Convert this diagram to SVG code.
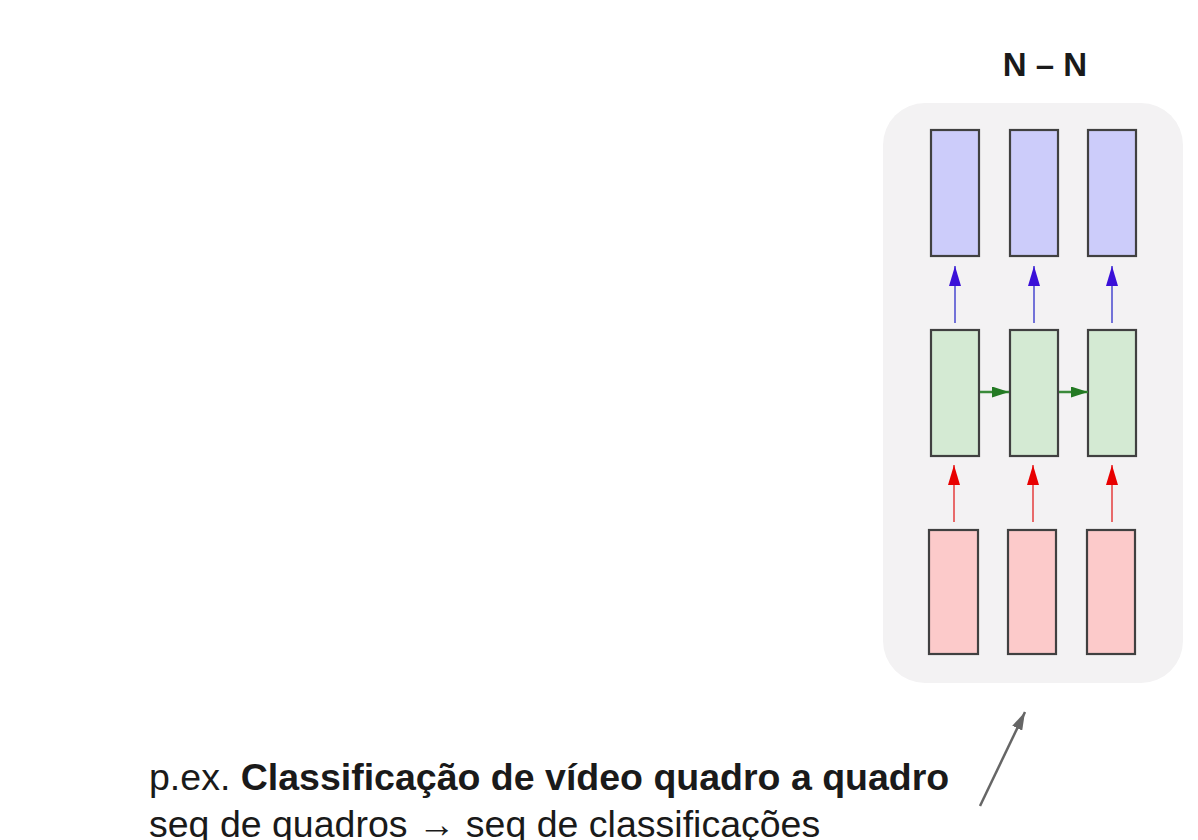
<svg xmlns="http://www.w3.org/2000/svg" width="1198" height="840" viewBox="0 0 1198 840">
<defs>
<style>
.box{stroke:#404040;stroke-width:2.2}
.out{fill:#ccccfa}
.hid{fill:#d4ead3}
.inp{fill:#fccaca}
.lbl{font-family:"Liberation Sans",Arial,sans-serif;fill:#1a1a1a}
</style>
<marker id="mb" viewBox="0 0 10 10" preserveAspectRatio="none" refX="10" refY="5" markerWidth="20" markerHeight="12" orient="auto" markerUnits="userSpaceOnUse"><path d="M0,0L10,5L0,10z" fill="#3a10d8"/></marker>
<marker id="mr" viewBox="0 0 10 10" preserveAspectRatio="none" refX="10" refY="5" markerWidth="20" markerHeight="12" orient="auto" markerUnits="userSpaceOnUse"><path d="M0,0L10,5L0,10z" fill="#e80000"/></marker>
<marker id="mg" viewBox="0 0 10 10" preserveAspectRatio="none" refX="10" refY="5" markerWidth="17" markerHeight="11" orient="auto" markerUnits="userSpaceOnUse"><path d="M0,0L10,5L0,10z" fill="#237a23"/></marker>
<marker id="mk" viewBox="0 0 10 10" preserveAspectRatio="none" refX="10" refY="5" markerWidth="18" markerHeight="11" orient="auto" markerUnits="userSpaceOnUse"><path d="M0,0L10,5L0,10z" fill="#666"/></marker>
</defs>
<rect width="1198" height="840" fill="#ffffff"/>
<g id="panel"><rect x="883" y="103" width="300" height="580" rx="42" fill="#f3f2f3"/></g>
<g id="title"><text class="lbl" x="1045" y="76" font-size="33" font-weight="bold" text-anchor="middle">N – N</text></g>
<g id="out1"><rect class="box out" x="931" y="130" width="48" height="126"/></g>
<g id="out2"><rect class="box out" x="1010" y="130" width="48" height="126"/></g>
<g id="out3"><rect class="box out" x="1088" y="130" width="48" height="126"/></g>
<g id="hid1"><rect class="box hid" x="931" y="330" width="48" height="126"/></g>
<g id="hid2"><rect class="box hid" x="1010" y="330" width="48" height="126"/></g>
<g id="hid3"><rect class="box hid" x="1088" y="330" width="48" height="126"/></g>
<g id="in1"><rect class="box inp" x="929" y="530" width="49" height="124"/></g>
<g id="in2"><rect class="box inp" x="1008" y="530" width="48" height="124"/></g>
<g id="in3"><rect class="box inp" x="1087" y="530" width="48" height="124"/></g>
<g id="connectors" fill="none">
<g stroke="#7272d8" stroke-width="2" marker-end="url(#mb)">
<path d="M955,323V266"/><path d="M1034,323V266"/><path d="M1112,323V266"/>
</g>
<g stroke="#e86a6a" stroke-width="2" marker-end="url(#mr)">
<path d="M954,522V465"/><path d="M1033,522V465"/><path d="M1112,522V465"/>
</g>
<g stroke="#3a8a3a" stroke-width="2.5" marker-end="url(#mg)">
<path d="M980,392H1009"/><path d="M1059,392H1088"/>
</g>
<path d="M980,806L1025,712" stroke="#666" stroke-width="2.5" marker-end="url(#mk)"/>
</g>
<g id="caption">
<text class="lbl" x="149" y="790" font-size="37.5">p.ex. <tspan font-weight="bold">Classificação de vídeo quadro a quadro</tspan></text>
<text class="lbl" x="149" y="837" font-size="37.5" fill="#222">seq de quadros → seq de classificações</text>
</g>
</svg>
